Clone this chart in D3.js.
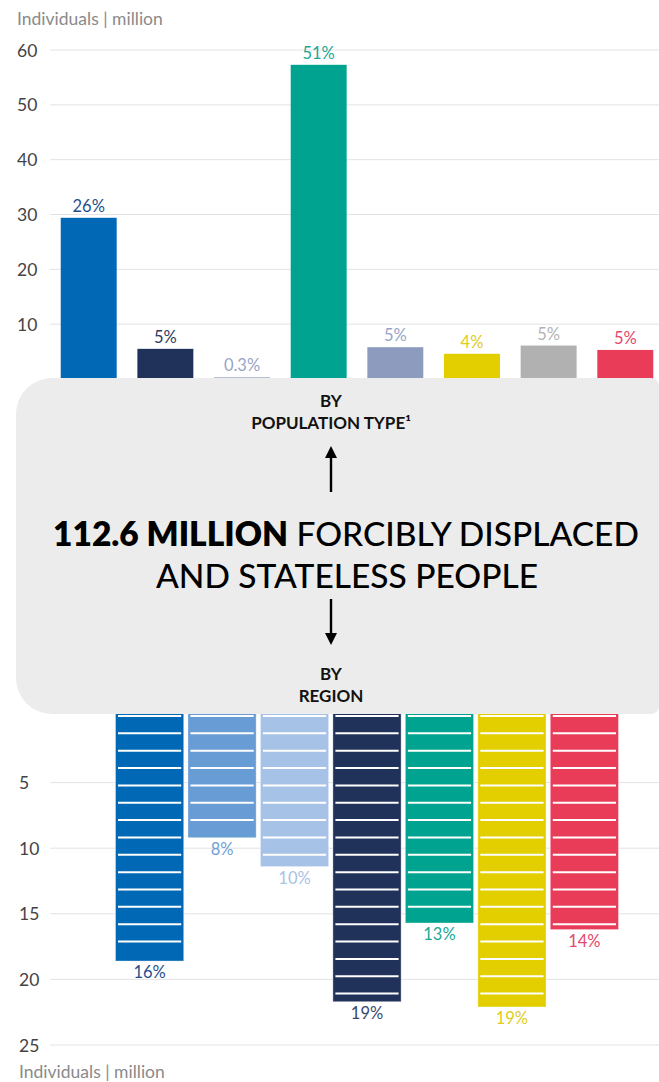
<!DOCTYPE html>
<html lang="en">
<head>
    <meta charset="UTF-8">
    <title>Forcibly displaced and stateless people</title>
    <script src="https://d3js.org/d3.v7.min.js"></script>
    <style>
        body { margin: 0; background: #fff; }
        svg { display: block; font-family: Lato, "Open Sans", sans-serif; }
        .grid line { stroke: #e3e3e3; stroke-width: 1px; }
        .tick-label { fill: #444; font-size: 17.5px; }
        .axis-title { fill: #8a8a8a; font-size: 17.5px; }
    </style>
</head>
<body>
<div id="chart"></div>
<script>
    // population type (top chart)
    const typeKeys = ['t1', 't2', 't3', 't4', 't5', 't6', 't7', 't8'];
    const typeValues = [29.4, 5.5, 0.3, 57.3, 5.8, 4.6, 6.1, 5.3];
    const typeShares = ['26%', '5%', '0.3%', '51%', '5%', '4%', '5%', '5%'];
    const typeColors = ['#0068b4', '#20325a', '#8d9bbe', '#00a38f', '#8d9bbe', '#e3cf00', '#b1b1b1', '#e83c59'];
    const typeLabelColors = ['#1f4f8f', '#2d3c63', '#97a5c7', '#1aa995', '#97a5c7', '#e0cc1a', '#b4b4b4', '#e8486a'];
    const typeTicks = [10, 20, 30, 40, 50, 60];

    // region (bottom chart)
    const regionKeys = ['r1', 'r2', 'r3', 'r4', 'r5', 'r6', 'r7'];
    const regionValues = [18.6, 9.2, 11.4, 21.7, 15.7, 22.1, 16.2];
    const regionShares = ['16%', '8%', '10%', '19%', '13%', '19%', '14%'];
    const regionColors = ['#0068b4', '#679dd4', '#a6c2e6', '#20325a', '#00a38f', '#e3cf00', '#e83c59'];
    const regionLabelColors = ['#1f4f8f', '#6f9fd6', '#a9c3e6', '#3a4870', '#1aa995', '#e0cc1a', '#e8486a'];
    const regionTicks = [5, 10, 15, 20, 25];

    const W = 659, H = 1082;
    const svg = d3.select('#chart').append('svg')
        .attr('width', W).attr('height', H);

    // ---------- top chart ----------
    const yTop = d3.scaleLinear().domain([0, 60]).range([379, 50]);
    const xTop = d3.scaleBand().domain(typeKeys)
        .range([50, 664]).paddingInner(0.27).paddingOuter(0.14);

    svg.append('text').attr('class', 'axis-title')
        .attr('x', 17).attr('y', 25).text('Individuals | million');

    const gTop = svg.append('g').attr('class', 'grid');
    gTop.selectAll('line').data(typeTicks).join('line')
        .attr('x1', 50).attr('x2', W)
        .attr('y1', d => yTop(d)).attr('y2', d => yTop(d));
    svg.append('g').selectAll('text').data(typeTicks).join('text')
        .attr('class', 'tick-label')
        .attr('x', 17).attr('y', d => yTop(d) + 6.5)
        .text(d => d);

    svg.append('g').selectAll('rect').data(typeValues).join('rect')
        .attr('x', (d, i) => xTop(typeKeys[i]))
        .attr('width', xTop.bandwidth())
        .attr('y', d => yTop(d))
        .attr('height', d => yTop(0) - yTop(d))
        .attr('fill', (d, i) => typeColors[i]);

    svg.append('g').selectAll('text').data(typeValues).join('text')
        .attr('x', (d, i) => xTop(typeKeys[i]) + xTop.bandwidth() / 2)
        .attr('y', d => yTop(d) - 6)
        .attr('text-anchor', 'middle')
        .attr('font-size', 16.5)
        .attr('fill', (d, i) => typeLabelColors[i])
        .text((d, i) => typeShares[i]);

    // ---------- bottom chart ----------
    const yBot = d3.scaleLinear().domain([0, 25]).range([717, 1045]);
    const xBot = d3.scaleBand().domain(regionKeys)
        .range([115, 619]).paddingInner(0.045).paddingOuter(0);

    const gBot = svg.append('g').attr('class', 'grid');
    gBot.selectAll('line').data(regionTicks).join('line')
        .attr('x1', 50).attr('x2', W)
        .attr('y1', d => yBot(d)).attr('y2', d => yBot(d));
    svg.append('g').selectAll('text').data(regionTicks).join('text')
        .attr('class', 'tick-label')
        .attr('x', 19).attr('y', d => yBot(d) + 6.5)
        .text(d => d);

    svg.append('text').attr('class', 'axis-title')
        .attr('x', 19).attr('y', 1078).text('Individuals | million');

    const bars = svg.append('g').selectAll('g').data(regionValues).join('g')
        .attr('transform', (d, i) => `translate(${xBot(regionKeys[i])},0)`);
    bars.append('rect')
        .attr('x', 0.5).attr('width', xBot.bandwidth() - 1)
        .attr('y', yBot(0) - 10)
        .attr('height', d => yBot(d) - yBot(0) + 10)
        .attr('fill', (d, i) => regionColors[i])
        .attr('stroke', '#ffffff').attr('stroke-opacity', 0.35).attr('stroke-width', 1);

    // white stripes across each region bar
    const stripeGap = 17.35, stripeStart = 716;
    bars.each(function (d) {
        const bottom = yBot(d);
        const ys = d3.range(stripeStart, bottom - 3, stripeGap);
        d3.select(this).selectAll('line').data(ys).join('line')
            .attr('x1', 3).attr('x2', xBot.bandwidth() - 3)
            .attr('y1', y => y).attr('y2', y => y)
            .attr('stroke', '#fff').attr('stroke-width', 2);
    });

    svg.append('g').selectAll('text').data(regionValues).join('text')
        .attr('x', (d, i) => xBot(regionKeys[i]) + xBot.bandwidth() / 2)
        .attr('y', d => yBot(d) + 17)
        .attr('text-anchor', 'middle')
        .attr('font-size', 16.5)
        .attr('fill', (d, i) => regionLabelColors[i])
        .text((d, i) => regionShares[i]);

    // ---------- centre panel ----------
    const bx0 = 16, bx1 = 659, by0 = 378, by1 = 714, rl = 36, rr = 8;
    const p = d3.path();
    p.moveTo(bx0 + rl, by0);
    p.lineTo(bx1 - rr, by0);
    p.arcTo(bx1, by0, bx1, by0 + rr, rr);
    p.lineTo(bx1, by1 - rr);
    p.arcTo(bx1, by1, bx1 - rr, by1, rr);
    p.lineTo(bx0 + rl, by1);
    p.arcTo(bx0, by1, bx0, by1 - rl, rl);
    p.lineTo(bx0, by0 + rl);
    p.arcTo(bx0, by0, bx0 + rl, by0, rl);
    p.closePath();
    svg.append('path').attr('d', p.toString()).attr('fill', '#ececec');

    const cx = 331;
    const small = svg.append('g').attr('text-anchor', 'middle')
        .attr('font-size', 17).attr('font-weight', 700).attr('fill', '#111');
    small.append('text').attr('x', cx).attr('y', 407).text('BY');
    small.append('text').attr('x', cx).attr('y', 429).text('POPULATION TYPE¹');
    small.append('text').attr('x', cx).attr('y', 680).text('BY');
    small.append('text').attr('x', cx).attr('y', 702).text('REGION');

    svg.append('defs').append('marker')
        .attr('id', 'arrow').attr('viewBox', '0 0 10 10')
        .attr('refX', 5).attr('refY', 5)
        .attr('markerWidth', 5).attr('markerHeight', 5)
        .attr('orient', 'auto-start-reverse')
        .append('path').attr('d', 'M0,0 L10,5 L0,10 Z').attr('fill', '#000');
    svg.append('line').attr('x1', cx).attr('x2', cx).attr('y1', 492).attr('y2', 452)
        .attr('stroke', '#000').attr('stroke-width', 2.4).attr('marker-end', 'url(#arrow)');
    svg.append('line').attr('x1', cx).attr('x2', cx).attr('y1', 599).attr('y2', 639)
        .attr('stroke', '#000').attr('stroke-width', 2.4).attr('marker-end', 'url(#arrow)');

    const big = svg.append('g').attr('text-anchor', 'middle')
        .attr('font-size', 33.5).attr('fill', '#000');
    const line1 = big.append('text').attr('x', cx + 15).attr('y', 546);
    line1.append('tspan').attr('font-weight', 800).text('112.6 MILLION');
    line1.append('tspan').attr('font-weight', 500).text(' FORCIBLY DISPLACED');
    big.append('text').attr('x', cx + 16).attr('y', 588)
        .attr('font-weight', 500).text('AND STATELESS PEOPLE');
</script>
</body>
</html>
